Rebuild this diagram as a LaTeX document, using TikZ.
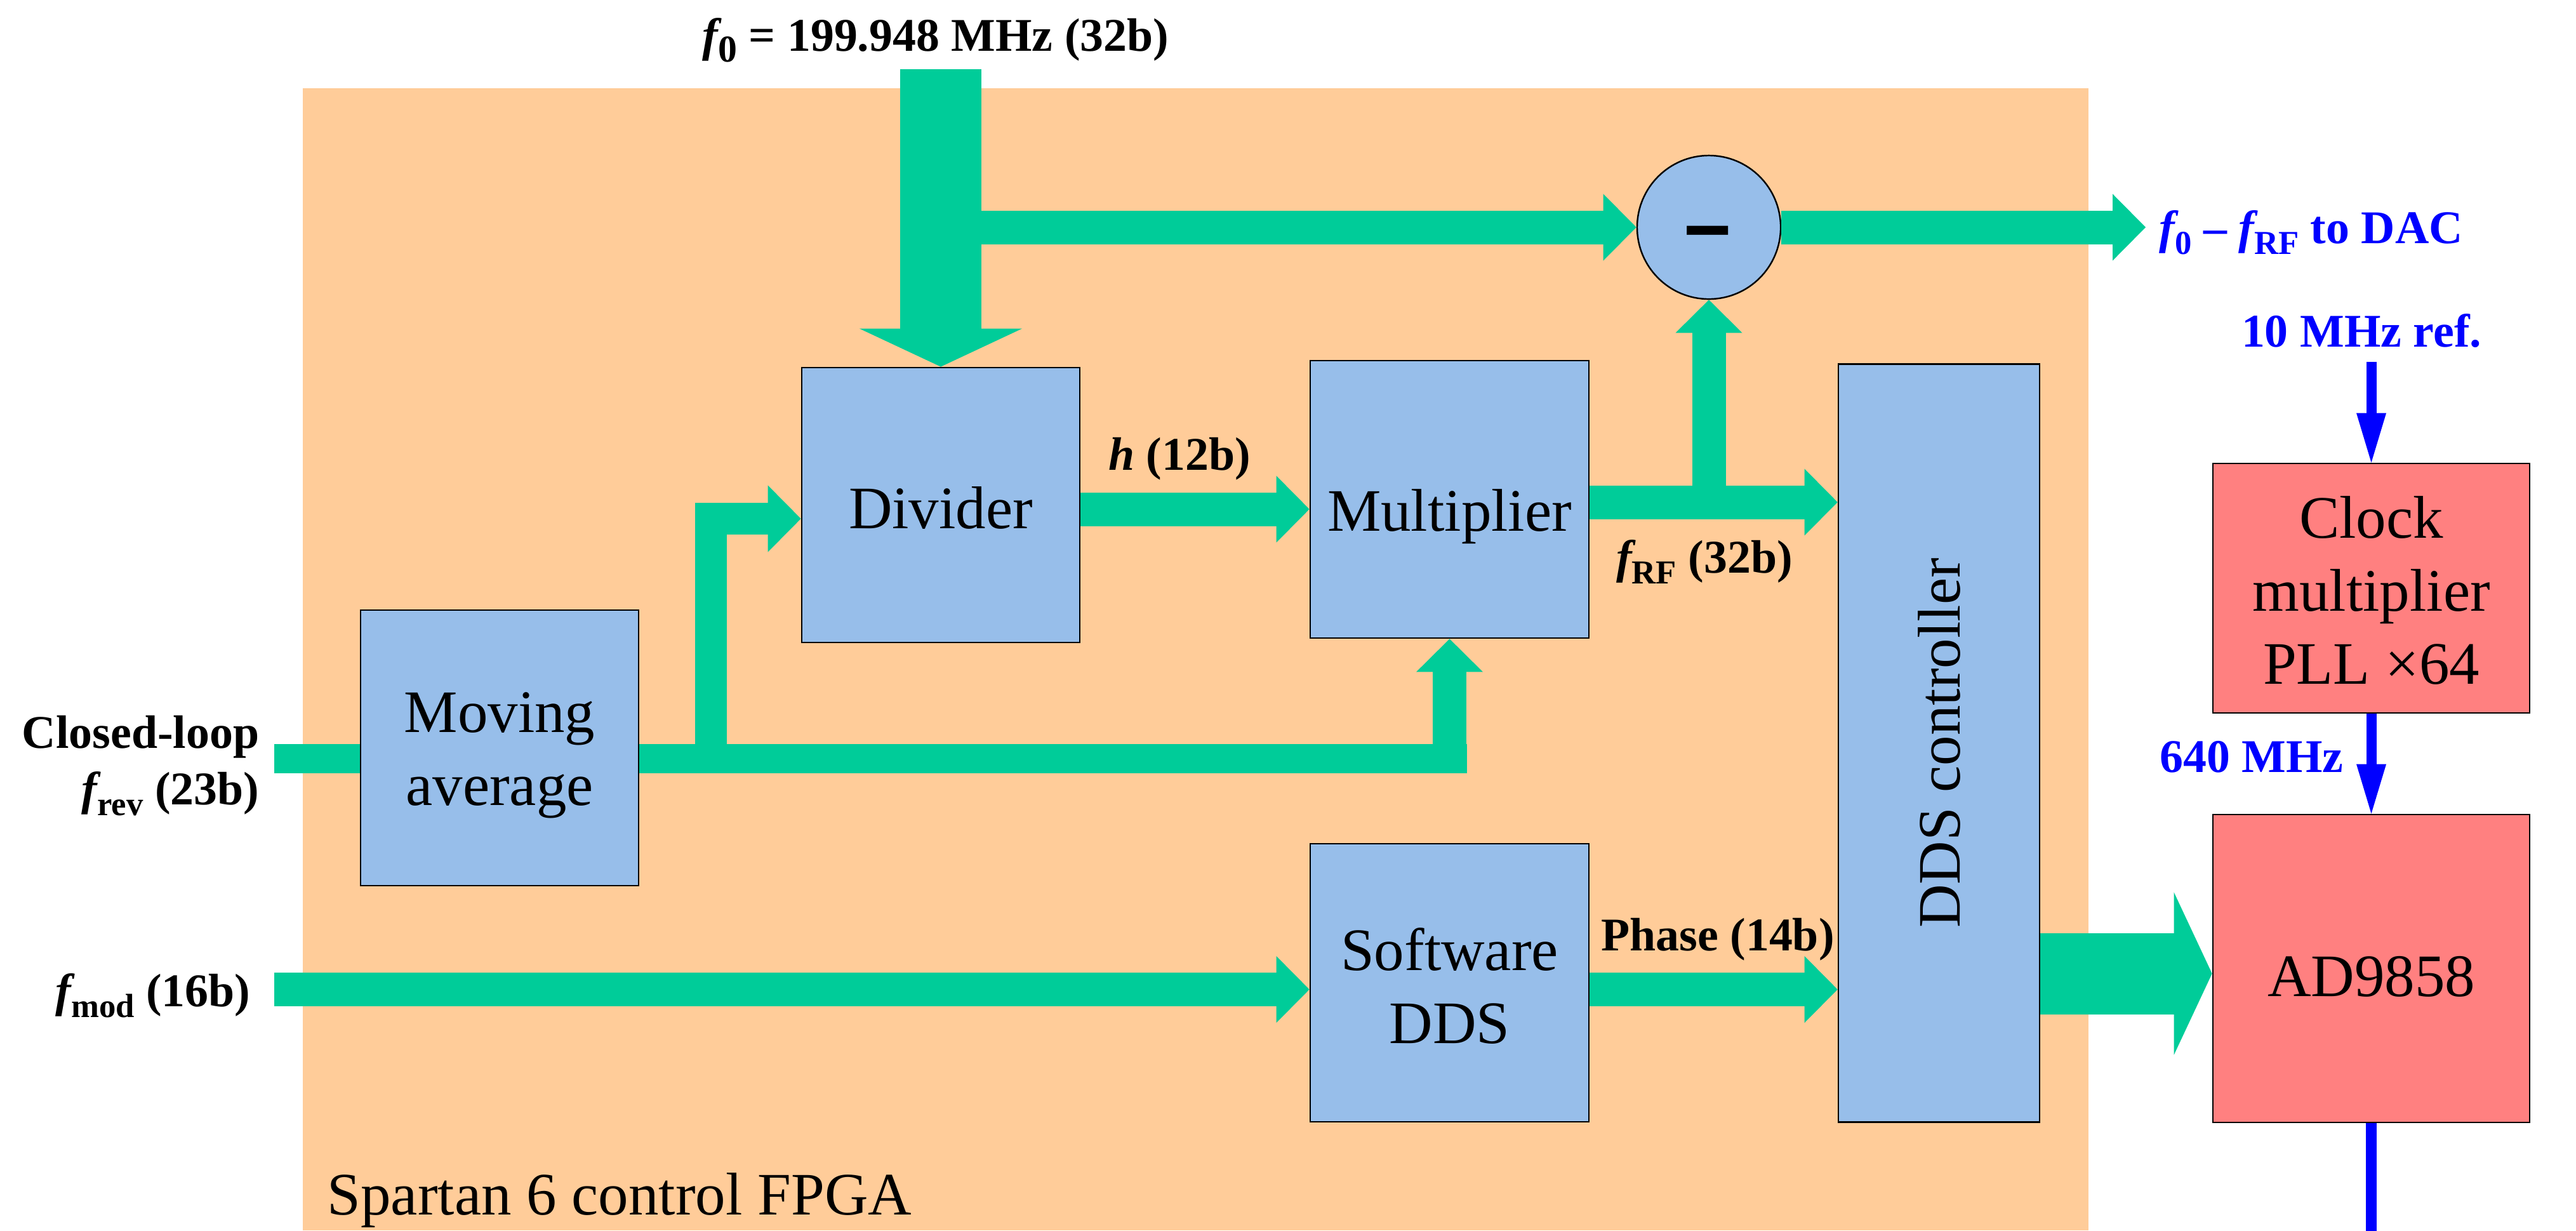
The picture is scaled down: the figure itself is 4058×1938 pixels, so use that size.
\documentclass[tikz,border=0pt]{standalone}
\usepackage{fontspec}
\setmainfont{Liberation Serif}
\usepackage{graphicx}
\usetikzlibrary{arrows.meta,calc}
\definecolor{fpga}{RGB}{255,204,153}
\definecolor{gr}{RGB}{0,204,153}
\definecolor{bbox}{RGB}{151,190,234}
\definecolor{rbox}{RGB}{255,128,128}
\definecolor{bl}{RGB}{0,0,255}
\newcommand\mysub[2][15]{\raisebox{-5pt}{\fontsize{#1}{#1}\selectfont #2}}
\begin{document}
\begin{tikzpicture}[x=0.01cm,y=-0.01cm,
  blk/.style={draw=black,line width=0.7pt,fill=bbox,inner sep=0pt,align=center,font=\fontsize{27}{32.7}\selectfont},
  rblk/.style={blk,fill=rbox},
  lbl/.style={font=\fontsize{21}{25}\selectfont\bfseries,inner sep=0pt},
  gline/.style={draw=gr,line width=0.46cm},
  garrow/.style={draw=gr,line width=0.53cm,-{Triangle[length=0.52cm,width=1.05cm,line width=0pt]}},
  bigarrow/.style={draw=gr,line width=1.28cm,-{Triangle[length=0.6cm,width=2.56cm,line width=0pt]}},
  barrow/.style={draw=bl,line width=0.16cm,-{Triangle[length=0.78cm,width=0.47cm,line width=0pt]}}
]
\useasboundingbox (0,0) rectangle (4058,1938);
\fill[fpga] (477,139) rectangle (3290,1938);

% blocks
\node[blk,minimum width=4.38cm,minimum height=4.34cm] (mavg) at (787,1178) {\rule{0pt}{24.5pt}Moving\\average};
\node[blk,minimum width=4.38cm,minimum height=4.33cm,text depth=0.2cm,text height=0.93cm] (div) at (1482,795.5) {Divider};
\node[blk,minimum width=4.39cm,minimum height=4.37cm,text depth=0.2cm,text height=1.19cm] (mult) at (2283.5,786.5) {Multiplier};
\node[blk,minimum width=4.39cm,minimum height=4.38cm] (sdds) at (2283.5,1548) {\rule{0pt}{22pt}Software\\DDS};
\node[blk,minimum width=3.17cm,minimum height=11.93cm] (ddsc) at (3054.5,1170.5) {};
\node[rotate=90,inner sep=0pt,font=\fontsize{27}{32.7}\selectfont] (ddsct) at (ddsc.center) {DDS controller};
\node[circle,draw=black,line width=0.7pt,fill=bbox,minimum size=2.26cm,inner sep=0pt] (minus) at (2692,358) {};
\node[inner sep=0pt,anchor=base,font=\fontsize{36}{36}\selectfont\bfseries] (minustxt) at (2690,410) {\scalebox{1}[1.6]{–}};
\node[rblk,minimum width=4.99cm,minimum height=3.93cm] (clk) at (3735.5,926.5) {\rule{0pt}{21pt}Clock\\multiplier\\PLL ×64};
\node[rblk,minimum width=4.99cm,minimum height=4.85cm,text depth=0.2cm,text height=1.07cm] (ad) at (3735.5,1525.5) {AD9858};

% f0 input
\coordinate (f0top) at (1482,109);
\draw[garrow] (f0top |- minus.west) -- (minus.west);
\draw[bigarrow] (f0top) -- (div.north);
\coordinate (dac) at (3380,358);
\draw[garrow] (minus.east) -- (dac);

% divider -> multiplier
\coordinate (h1) at ($(div.east)+(0,6.5)$);
\draw[garrow] (h1) -- (h1 -| mult.west);

% multiplier -> DDS controller, and up to minus
\coordinate (r1) at ($(mult.east)+(0,4.5)$);
\draw[garrow] (r1) -- (r1 -| ddsc.west);
\draw[garrow] (r1 -| minus.south) -- (minus.south);

% closed-loop input
\coordinate (m1) at ($(mavg.west)+(0,16.5)$);
\coordinate (clin) at (432,1194.5);
\draw[gline] (clin) -- (m1);

% moving average out
\coordinate (m2) at ($(mavg.east)+(0,16.5)$);
\draw[gline] (m2) -- ($(m2 -| mult.south)+(27,0)$);
\draw[garrow] ($(m2 -| mult.south)+(0,23)$) -- (mult.south);
\coordinate (j1) at (1120,1194.5);
\draw[garrow,line width=0.5cm] (j1) |- ($(div.west)+(0,21.5)$);

% f_mod input
\coordinate (s1) at ($(sdds.west)+(0,10.5)$);
\coordinate (fmin) at (432,1558.5);
\draw[garrow] (fmin) -- (s1);
\coordinate (s2) at ($(sdds.east)+(0,10.5)$);
\draw[garrow] (s2) -- (s2 -| ddsc.west);

% DDS controller -> AD9858
\coordinate (a1) at ($(ad.west)+(0,8)$);
\draw[bigarrow] (a1 -| ddsc.east) -- (a1);

% clock lines
\coordinate (tenin) at (3735.5,570);
\draw[barrow] (tenin) -- (clk.north);
\draw[barrow] (clk.south) -- (ad.north);
\coordinate (adout) at (3735.5,1945);
\draw[draw=bl,line width=0.17cm] (ad.south) -- (adout);

% labels
\node[lbl,anchor=base] (f0txt) at (1474,80) {{\itshape f}\mysub[17]{0} = 199.948 MHz (32b)};
\node[lbl,text=bl,anchor=base west] (dactxt) at (3401,383) {{\itshape f}\mysub{0} – {\itshape f}\mysub{RF} to DAC};
\node[lbl,anchor=base] (htxt) at (1858,740) {{\itshape h} (12b)};
\node[lbl,anchor=base] (rftxt) at (2685,902) {{\itshape f}\mysub{RF} (32b)};
\node[lbl,anchor=base] (phtxt) at (2706,1497) {Phase (14b)};
\node[lbl,anchor=base east] (cltxt) at (409,1178) {Closed-loop};
\node[lbl,anchor=base east] (frevtxt) at (409,1267) {{\itshape f}\mysub{rev} (23b)};
\node[lbl,anchor=base east] (fmodtxt) at (395,1585) {{\itshape f}\mysub{mod} (16b)};
\node[lbl,text=bl,anchor=base] (tentxt) at (3720,546) {10 MHz ref.};
\node[lbl,text=bl,anchor=base east] (sixtxt) at (3692,1216) {640 MHz};
\node[inner sep=0pt,anchor=base west,font=\fontsize{27}{32.7}\selectfont] (fpgatxt) at (515,1913) {Spartan 6 control FPGA};
\end{tikzpicture}
\end{document}
